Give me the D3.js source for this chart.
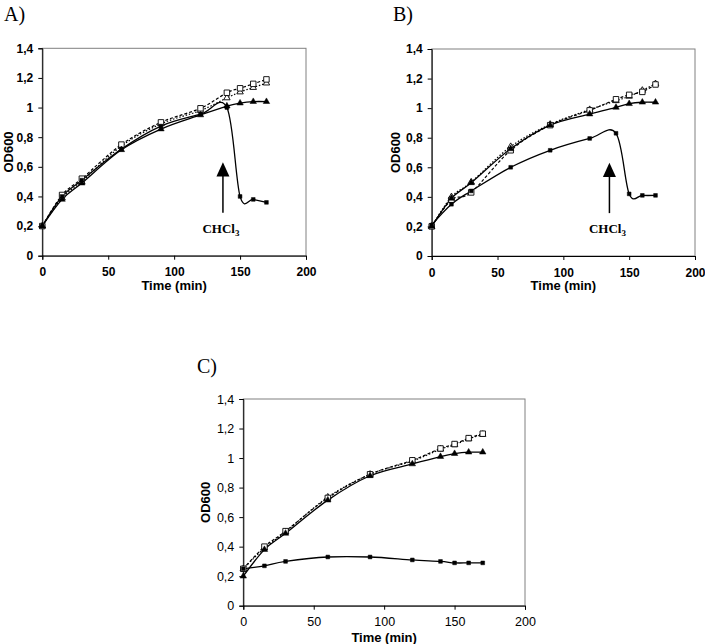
<!DOCTYPE html>
<html><head><meta charset="utf-8">
<script src="https://cdn.jsdelivr.net/npm/d3@7"></script>
<style>body{margin:0;background:#fff}</style>
</head><body>
<svg id="chart" width="705" height="644"></svg>
<script>
// ---- data ----
const time = [0, 15, 30, 60, 90, 120, 140, 150, 160, 170];
const yTicks = [0, 0.2, 0.4, 0.6, 0.8, 1, 1.2, 1.4];
const xTicks = [0, 50, 100, 150, 200];
const panelLabels = ["A)", "B)", "C)"];
const xTitle = "Time (min)";
const yTitle = "OD600";
const annotationText = "CHCl";
const annotationSub = "3";

// Panel A
const aSolidTri = [0.20, 0.38, 0.49, 0.715, 0.855, 0.95, 1.01, 1.03, 1.04, 1.04];
const aSolidSq  = [0.20, 0.40, 0.51, 0.72, 0.875, 0.955, 1.00, 0.40, 0.38, 0.36];
const aOpenSq   = [0.20, 0.41, 0.52, 0.75, 0.90, 0.995, 1.10, 1.13, 1.16, 1.19];
const aOpenTri  = [0.20, 0.39, 0.50, 0.74, 0.89, 0.98, 1.065, 1.105, 1.135, 1.165];
// Panel B
const bSolidTri = [0.20, 0.39, 0.495, 0.725, 0.885, 0.96, 1.005, 1.03, 1.04, 1.04];
const bSolidSq  = [0.21, 0.35, 0.44, 0.60, 0.715, 0.795, 0.83, 0.42, 0.41, 0.41];
const bOpenSq   = [0.20, 0.38, 0.43, 0.715, 0.885, 0.985, 1.06, 1.09, 1.11, 1.16];
const bOpenTri  = [0.20, 0.40, 0.50, 0.74, 0.89, 0.99, 1.05, 1.08, 1.12, 1.165];
// Panel C
const cSolidTri = [0.20, 0.38, 0.49, 0.715, 0.88, 0.96, 1.01, 1.03, 1.04, 1.04];
const cSolidSq  = [0.25, 0.27, 0.30, 0.33, 0.33, 0.31, 0.30, 0.29, 0.29, 0.29];
const cOpenSq   = [0.25, 0.40, 0.505, 0.73, 0.89, 0.985, 1.065, 1.095, 1.135, 1.165];
const cOpenTri  = [0.25, 0.39, 0.50, 0.735, 0.89, 0.98, 1.06, 1.09, 1.13, 1.16];

// arrow annotation times
const arrowTimes = [137, 135];

// ---- drawing ----
const svg = d3.select("#chart");
const fmt = v => String(v).replace(".", ",");
const SANS = "'Liberation Sans', Arial, sans-serif";
const SERIF = "'Liberation Serif', 'Times New Roman', serif";

const panels = [
  {label: panelLabels[0], lx: 4, ly: 21, left: 42.3, top: 48.3, w: 263.7, h: 207.4, bold: true,
   series: [aOpenTri, aOpenSq, aSolidTri, aSolidSq], arrow: arrowTimes[0], ytx: 8, tpad: 8, tt: 34},
  {label: panelLabels[1], lx: 393, ly: 21, left: 431.7, top: 49, w: 263.3, h: 207, bold: true,
   series: [bOpenTri, bOpenSq, bSolidTri, bSolidSq], arrow: arrowTimes[1], ytx: 395, tpad: 8, tt: 34},
  {label: panelLabels[2], lx: 197, ly: 373, left: 243.3, top: 399, w: 281.7, h: 206.7, bold: false,
   series: [cOpenTri, cOpenSq, cSolidTri, cSolidSq], arrow: null, ytx: 205, tpad: 7, tt: 36}
];

const styles = [
  {dash: "1.5,1.8", width: 1.2, sym: d3.symbolTriangle, size: 18, fill: "#fff"},
  {dash: "3,2",     width: 1.2, sym: d3.symbolSquare,   size: 30, fill: "#fff"},
  {dash: null,      width: 1.3, sym: d3.symbolTriangle, size: 18, fill: "#000"},
  {dash: null,      width: 1.3, sym: d3.symbolSquare,   size: 14, fill: "#000"}
];

panels.forEach(p => {
  const g = svg.append("g");
  const x = d3.scaleLinear().domain([0, 200]).range([p.left, p.left + p.w]);
  const y = d3.scaleLinear().domain([0, 1.4]).range([p.top + p.h, p.top]);

  svg.append("text").attr("x", p.lx).attr("y", p.ly)
    .attr("font-family", SERIF).attr("font-size", 20).text(p.label);

  g.append("rect").attr("x", p.left).attr("y", p.top).attr("width", p.w).attr("height", p.h)
    .attr("fill", "none").attr("stroke", "#808080").attr("stroke-width", 1);

  const yAxis = g.append("g").attr("transform", `translate(${p.left},0)`)
    .call(d3.axisLeft(y).tickValues(yTicks).tickFormat(fmt).tickSize(4).tickPadding(5));
  const xAxis = g.append("g").attr("transform", `translate(0,${p.top + p.h})`)
    .call(d3.axisBottom(x).tickValues(xTicks).tickFormat(fmt).tickSize(4).tickPadding(p.tpad));
  [yAxis, xAxis].forEach(a => {
    a.selectAll("text").attr("font-family", SANS)
      .attr("font-size", p.bold ? 12 : 12.5).attr("font-weight", p.bold ? "bold" : "normal").attr("fill", "#000");
    a.selectAll("path,line").attr("stroke", "#000");
  });

  g.append("text").attr("x", p.left + p.w / 2).attr("y", p.top + p.h + p.tt)
    .attr("text-anchor", "middle").attr("font-family", SANS)
    .attr("font-size", 13).attr("font-weight", "bold").text(xTitle);
  g.append("text").attr("transform", `translate(${p.ytx},${p.top + p.h / 2}) rotate(-90)`)
    .attr("text-anchor", "middle").attr("dominant-baseline", "central")
    .attr("font-family", SANS).attr("font-size", 13).attr("font-weight", "bold").text(yTitle);

  const line = d3.line().x((d, i) => x(time[i])).y(d => y(d)).curve(d3.curveCardinal.tension(0));

  p.series.forEach((s, k) => {
    const st = styles[k];
    g.append("path").attr("d", line(s)).attr("fill", "none").attr("stroke", "#000")
      .attr("stroke-width", st.width).attr("stroke-dasharray", st.dash);
  });
  p.series.forEach((s, k) => {
    const st = styles[k];
    g.selectAll(null).data(s).enter().append("path")
      .attr("d", d3.symbol().type(st.sym).size(st.size))
      .attr("transform", (d, i) => `translate(${x(time[i])},${y(d)})`)
      .attr("fill", st.fill).attr("stroke", "#000").attr("stroke-width", st.fill === "#fff" ? 0.9 : 0.5);
  });

  if (p.arrow !== null) {
    const ax = x(p.arrow);
    g.append("line").attr("x1", ax).attr("x2", ax).attr("y1", y(0.54)).attr("y2", y(0.29))
      .attr("stroke", "#000").attr("stroke-width", 1.5);
    g.append("path").attr("d", `M${ax},${y(0.63)} L${ax - 6.5},${y(0.535)} L${ax + 6.5},${y(0.535)} Z`)
      .attr("fill", "#000");
    const t = g.append("text").attr("x", ax - 2).attr("y", y(0.153)).attr("text-anchor", "middle")
      .attr("font-family", SERIF).attr("font-size", 13).attr("font-weight", "bold").text(annotationText);
    t.append("tspan").attr("font-size", 9).attr("dy", 3).text(annotationSub);
  }
});
</script>
</body></html>
